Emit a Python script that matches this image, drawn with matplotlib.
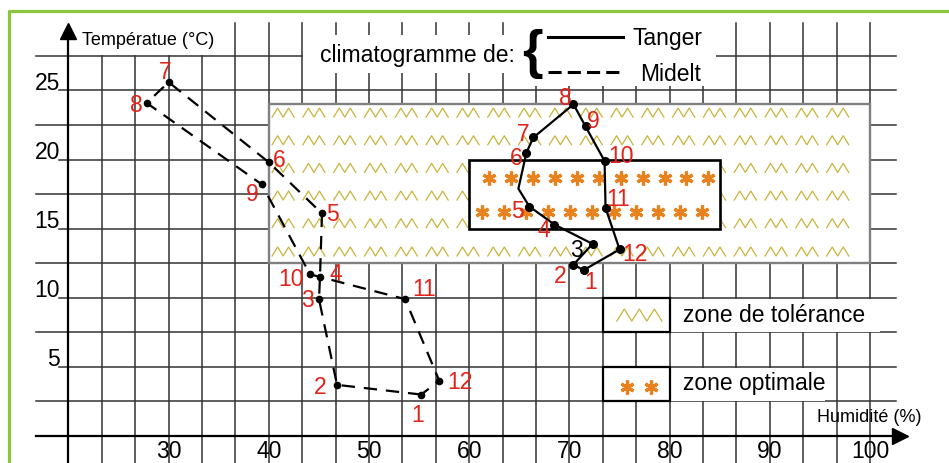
import matplotlib
matplotlib.use("Agg")
import matplotlib.pyplot as plt
from matplotlib.patches import Rectangle

plt.rcParams['font.family'] = ['Liberation Sans', 'DejaVu Sans']

# =============================================================================
# Donnees lues sur le climatogramme (mois 1 a 12)
# =============================================================================

mois = [1, 2, 3, 4, 5, 6, 7, 8, 9, 10, 11, 12]

tanger_hum = [71.4, 70.4, 72.3, 68.5, 66.0, 65.7, 66.4, 70.4, 71.6, 73.5, 73.6, 75.0]
tanger_temp = [12.0, 12.4, 13.9, 15.3, 16.6, 20.5, 21.6, 24.0, 22.4, 19.9, 16.5, 13.5]
# coude de la courbe de Tanger entre mai et juin
tanger_coude = (64.9, 17.9)

midelt_hum = [55.2, 46.8, 45.0, 45.1, 45.3, 40.0, 30.0, 27.8, 39.3, 44.1, 53.6, 57.0]
midelt_temp = [3.0, 3.7, 9.9, 11.5, 16.1, 19.8, 25.6, 24.1, 18.2, 11.7, 9.9, 4.0]

x_ticks = [30, 40, 50, 60, 70, 80, 90, 100]
y_ticks = [5, 10, 15, 20, 25]

# zones : (hum min, hum max, temp min, temp max)
zone_tolerance = (40, 100, 12.5, 24)
zone_optimale = (60, 85, 15, 20)

ROUGE = '#e2231a'
OLIVE = '#c8b43c'
ORANGE = '#e8821e'
VERT = '#8cc63f'
GRILLE = '#333333'
FS = 16.5


def zigzag(ax, xc, yc, n, largeur, hauteur, z):
    '''Dessine un motif /\\/\\ centre en (xc, yc) avec n pointes'''
    pas = largeur / (2 * n)
    xs = [xc - largeur / 2 + i * pas for i in range(2 * n + 1)]
    ys = [yc + (hauteur / 2 if i % 2 else -hauteur / 2) for i in range(2 * n + 1)]
    ax.plot(xs, ys, color=OLIVE, lw=0.9, zorder=z)


def etoiles(ax, xs, y, z):
    ax.plot(xs, [y] * len(xs), ls='none', marker=(6, 2, 0), ms=10, mew=2.3,
            color=ORANGE, zorder=z)


fig = plt.figure(figsize=(9.49, 4.63), dpi=100)
ax = fig.add_axes([0, 0, 1, 1])
ax.set_xlim(13.164, 107.876)
ax.set_ylim(-1.954, 31.548)
ax.axis('off')

# cadre vert
ax.plot([14.06, 14.06, 109], [-3, 30.75, 30.75], color=VERT, lw=2.3, zorder=10)

# =============================================================================
# Papier millimetre
# =============================================================================

for k in range(1, 25):
    x = 20 + k * 10 / 3
    haut = 27.5 if x < 35 else 29.9
    ax.plot([x, x], [-2.5, haut], color=GRILLE, lw=1.1, zorder=1)

for k in range(1, 12):
    y = 2.5 * k
    debut = 19.1 if y in y_ticks else 16.8
    ax.plot([debut, 102.6], [y, y], color=GRILLE, lw=1.1, zorder=1)

# axes avec fleches
ax.plot([20, 20], [-2.5, 29.0], color='black', lw=1.6, zorder=2)
ax.plot(20, 29.28, marker='^', ms=12, color='black', zorder=2)
ax.plot([16.8, 102.4], [0, 0], color='black', lw=1.6, zorder=2)
ax.plot(102.95, 0, marker='>', ms=12, color='black', zorder=2)

for v in x_ticks:
    ax.text(v, -1.6, str(v), ha='center', va='baseline', fontsize=FS, zorder=3)
for v in y_ticks:
    ax.text(19.15, v + 0.05, str(v), ha='right', va='baseline', fontsize=FS, zorder=3)

ax.text(21.35, 28.29, 'Températue (°C)', fontsize=13, va='baseline', zorder=3)
ax.text(94.7, 1.03, 'Humidité (%)', fontsize=13, va='baseline', zorder=3)

# =============================================================================
# Zones de tolerance et optimale
# =============================================================================

h0, h1, t0, t1 = zone_tolerance
ax.add_patch(Rectangle((h0, t0), h1 - h0, t1 - t0, facecolor='white',
                       edgecolor='#808080', lw=1.7, zorder=2))
for yc in [13.35, 15.4, 17.4, 19.4, 21.4, 23.4]:
    for k in range(19):
        zigzag(ax, 41.42 + 3.075 * k, yc, 2, 2.2, 0.65, 3)

h0, h1, t0, t1 = zone_optimale
ax.add_patch(Rectangle((h0, t0), h1 - h0, t1 - t0, facecolor='white',
                       edgecolor='black', lw=1.9, zorder=4))
etoiles(ax, [62.0 + 2.186 * k for k in range(11)], 18.67, 5)
etoiles(ax, [61.27 + 2.2 * k for k in range(11)], 16.2, 5)

# =============================================================================
# Courbes
# =============================================================================

tx = tanger_hum[:5] + [tanger_coude[0]] + tanger_hum[5:] + [tanger_hum[0]]
ty = tanger_temp[:5] + [tanger_coude[1]] + tanger_temp[5:] + [tanger_temp[0]]
ax.plot(tx, ty, color='black', lw=1.6, zorder=6)
ax.plot(tanger_hum, tanger_temp, ls='none', marker='o', ms=5.5, color='black', zorder=7)

mx = midelt_hum + [midelt_hum[0]]
my = midelt_temp + [midelt_temp[0]]
ax.plot(mx, my, color='black', lw=1.6, dashes=(6, 4), zorder=6)
ax.plot(midelt_hum, midelt_temp, ls='none', marker='o', ms=4.5, color='black', zorder=7)

# numeros des mois (decalage en points)
dec_tanger = [(5, -7.2), (-9.4, -6.5), (-11.5, -2.9), (-7.9, -2.2), (-8.6, -1.4),
              (-7.2, -2.2), (-7.2, 3.6), (-5.8, 5.8), (5.8, 5.0), (11.5, 5.0),
              (9.4, 7.9), (10.8, -2.2)]
dec_midelt = [(-2.9, -13), (-12.2, 0), (-8.3, 0.7), (11.5, 3.6), (7.6, 1.4),
              (7.2, 2.9), (-2.5, 8.6), (-7.6, 0), (-6.8, -5.4), (-14, -1.8),
              (13.7, 8.6), (15.1, 0.7)]

for i, m in enumerate(mois):
    couleur = 'black' if m == 3 else ROUGE
    ax.annotate(str(m), (tanger_hum[i], tanger_temp[i]), xytext=dec_tanger[i],
                textcoords='offset points', ha='center', va='center_baseline',
                fontsize=FS, color=couleur, zorder=8)
    ax.annotate(str(m), (midelt_hum[i], midelt_temp[i]), xytext=dec_midelt[i],
                textcoords='offset points', ha='center', va='center_baseline',
                fontsize=FS, color=ROUGE, zorder=8)

# =============================================================================
# Legendes
# =============================================================================

ax.add_patch(Rectangle((43.4, 26.27), 21.9, 2.75, facecolor='white', lw=0, zorder=2))
ax.add_patch(Rectangle((65.3, 25.33), 19.3, 5.5, facecolor='white', lw=0, zorder=2))
ax.text(45.1, 27.06, 'climatogramme de:', fontsize=FS, va='baseline', zorder=3)
ax.text(66.3, 27.64, '{', fontsize=38, fontweight='bold', ha='center',
        va='center', zorder=3)
ax.plot([67.9, 75.3], [28.87, 28.87], color='black', lw=2.2, zorder=3)
ax.plot([67.9, 75.3], [26.34, 26.34], color='black', lw=2.2, dashes=(4.3, 2.0), zorder=3)
ax.text(76.27, 28.29, 'Tanger', fontsize=FS, va='baseline', zorder=3)
ax.text(77.04, 25.69, 'Midelt', fontsize=FS, va='baseline', zorder=3)

ax.add_patch(Rectangle((80, 7.56), 21, 2.38, facecolor='white', lw=0, zorder=2))
ax.add_patch(Rectangle((80, 2.56), 15.5, 2.38, facecolor='white', lw=0, zorder=2))
ax.add_patch(Rectangle((73.33, 7.5), 6.67, 2.5, facecolor='white',
                       edgecolor='black', lw=1.6, zorder=3))
ax.add_patch(Rectangle((73.33, 2.5), 6.67, 2.5, facecolor='white',
                       edgecolor='black', lw=1.6, zorder=3))
zigzag(ax, 76.97, 8.75, 3, 4.5, 0.87, 4)
etoiles(ax, [75.78, 78.18], 3.55, 4)
ax.text(81.33, 8.25, 'zone de tolérance', fontsize=FS, va='baseline', zorder=3)
ax.text(81.33, 3.33, 'zone optimale', fontsize=FS, va='baseline', zorder=3)

fig.savefig('out.png', dpi=100)
